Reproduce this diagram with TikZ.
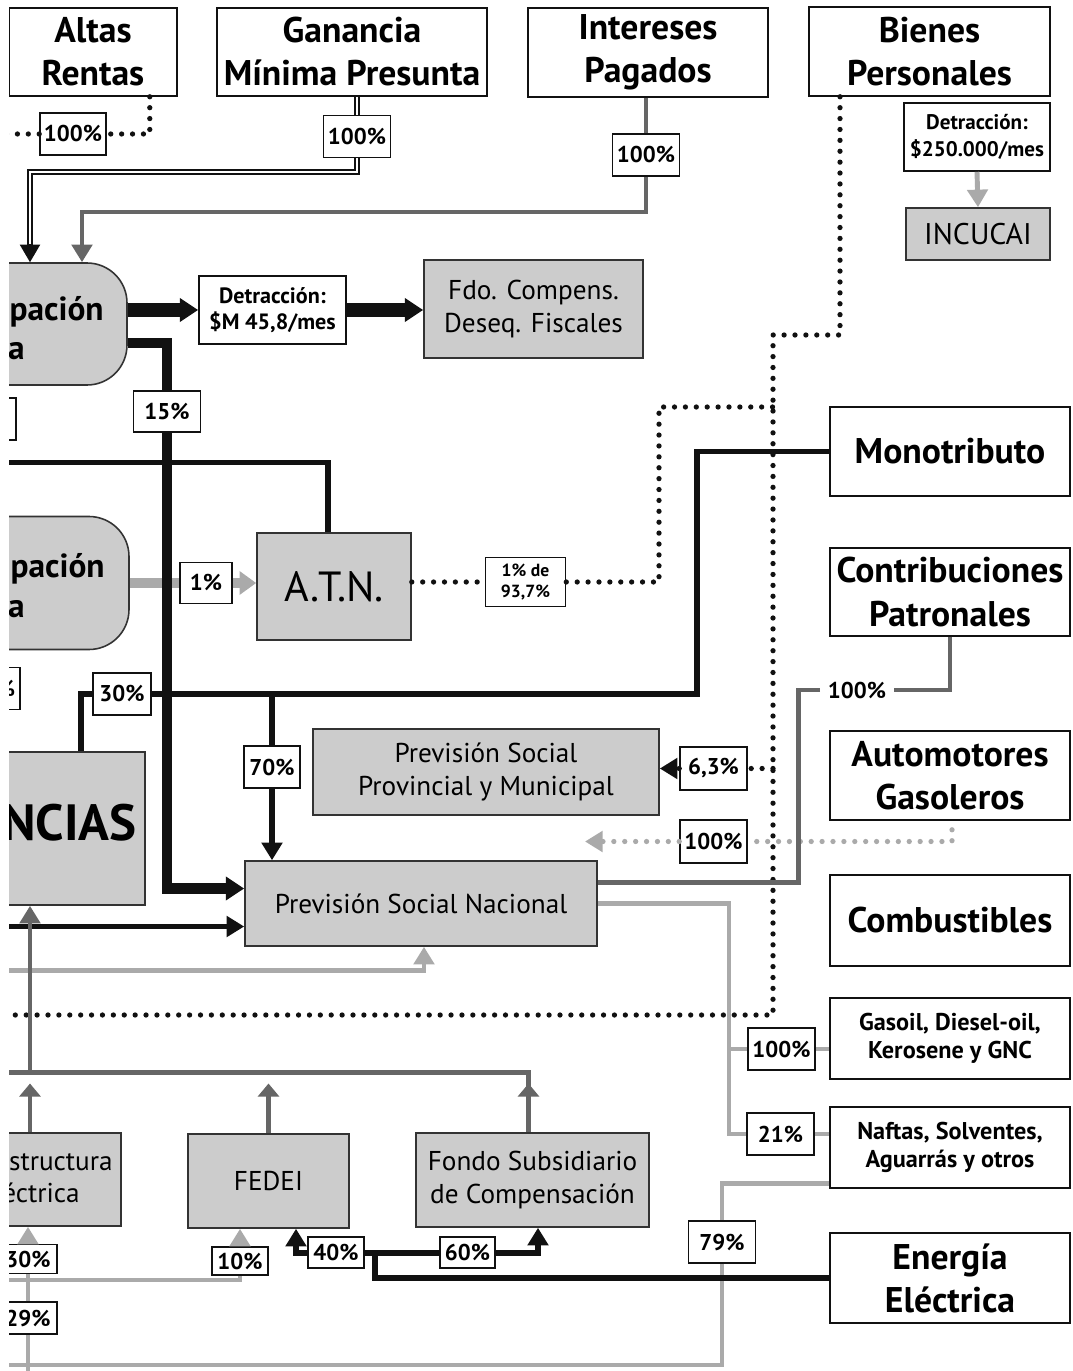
\documentclass[tikz,border=0pt]{standalone}
\usepackage{fontspec}
\setmainfont{PT Sans}
\usetikzlibrary{arrows.meta,calc}
\definecolor{ink}{HTML}{111111}
\definecolor{edge}{HTML}{333333}
\definecolor{fund}{HTML}{CCCCCC}
\definecolor{dgray}{HTML}{666666}
\definecolor{lgray}{HTML}{AAAAAA}

\begin{document}
\begin{tikzpicture}[x=0.02cm,y=-0.02cm,
  sz/.style 2 args={minimum width=#1*0.02cm,minimum height=#2*0.02cm},
  impuesto/.style={draw=ink,line width=0.9pt,fill=white,inner sep=0pt,align=center,font=\fontsize{20.3}{24.5}\selectfont\bfseries},
  menor/.style={impuesto,font=\fontsize{13.8}{16}\selectfont\bfseries},
  destino/.style={draw=edge,line width=0.9pt,fill=fund,inner sep=0pt,align=center,font=\fontsize{15.5}{18.5}\selectfont},
  pct/.style={draw=ink,line width=0.9pt,fill=white,inner sep=0pt,align=center,font=\fontsize{13}{14}\selectfont\bfseries},
  rotulo/.style={inner sep=0pt,font=\fontsize{19}{23}\selectfont\bfseries},
  flujo/.style={draw=ink,line width=3.4pt},
  grueso/.style={draw=ink,line width=6.2pt},
  dgris/.style={draw=dgray,line width=2.8pt},
  lgris/.style={draw=lgray,line width=2.8pt},
  punteo/.style={draw=ink,line width=3pt,line cap=round,dash pattern=on 0pt off 6.2pt},
  doble/.style={draw=ink,double=white,double distance=1.3pt,line width=0.8pt},
  >={Triangle[length=10pt,width=11.5pt]}]
\useasboundingbox (0,0) rectangle (1072,1371);
\clip (9,0) rectangle (1072,1371);

% impuestos de arriba
\node[impuesto,sz={168}{88}] (altas) at (93,52) {Altas\\Rentas};
\node[impuesto,sz={270}{88}] (gmp) at (352,52) {Ganancia\\Mínima Presunta};
\node[impuesto,sz={240}{89}] (intp) at (648,52.5) {Intereses\\Pagados};
\node[impuesto,sz={241}{89}] (bienes) at (929.5,51.5) {Bienes\\Personales};
\node[menor,sz={146}{68},font=\fontsize{12}{15}\selectfont\bfseries] (detrbp) at (977,137) {Detracción:\\\$250.000/mes};
\node[destino,sz={144}{52},font=\fontsize{17}{19}\selectfont] (incucai) at (978,234) {INCUCAI};

% impuestos de la derecha
\foreach \n/\y/\h/\t in {mono/451.5/89/Monotributo, contrib/592/88/{Contribuciones\\Patronales},
  autog/775.5/89/{Automotores\\Gasoleros}, combus/920.5/91/Combustibles, energia/1278/90/{Energía\\Eléctrica}}
  \node[impuesto,sz={240}{\h}] (\n) at (950,\y) {\t};
\node[menor,sz={240}{81}] (gasoil) at (950,1038.5) {Gasoil, Diesel-oil,\\Kerosene y GNC};
\node[menor,sz={240}{81}] (naftas) at (950,1147.5) {Naftas, Solventes,\\Aguarrás y otros};

% destinos
\node[destino,rounded corners=0.8cm,sz={227}{122}] (copa) at (13.5,324) {};
\node[destino,rounded corners=0.8cm,sz={229}{133}] (copb) at (14.5,583) {};
\node[destino,sz={245}{153}] (prov) at (22.5,828.5) {};
\node[destino,sz={221}{93}] (infra) at (10.5,1179.5) {};
\foreach \n/\x/\y/\t in {copa1/104/321/pación, copa2/25/359/a, copb1/105/577/pación, copb2/25/617/a}
  \node[rotulo,anchor=base east] (\n) at (\x,\y) {\t};
\node[rotulo,anchor=base east,font=\fontsize{29}{30}\selectfont\bfseries] (provtx) at (137,840) {NCIAS};
\node[inner sep=0pt,anchor=base east,font=\fontsize{15.5}{18}\selectfont] (infra1) at (113,1170) {estructura};
\node[inner sep=0pt,anchor=base east,font=\fontsize{15.5}{18}\selectfont] (infra2) at (80,1202) {éctrica};

\node[menor,sz={147}{68},font=\fontsize{12.6}{15}\selectfont\bfseries] (detrcf) at (272.5,310) {Detracción:\\\$M 45,8/mes};
\node[destino,sz={219}{98}] (fdo) at (533.5,309) {Fdo. Compens.\\Deseq. Fiscales};
\node[destino,sz={154}{107},font=\fontsize{24}{26}\selectfont] (atn) at (334,586.5) {A.T.N.};
\node[destino,sz={346}{86}] (pspm) at (486,772) {Previsión Social\\Provincial y Municipal};
\node[destino,sz={352}{85}] (psn) at (421,903.5) {Previsión Social Nacional};
\node[destino,sz={161}{94}] (fedei) at (268.5,1181) {FEDEI};
\node[destino,sz={233}{94}] (fsc) at (532.5,1180) {Fondo Subsidiario\\de Compensación};

% porcentajes
\foreach \n/\x/\y/\w/\h/\t in {pAR/73/134/66/42/100\%, pGM/357/136.5/67/42/100\%, pIP/646/155/67/42/100\%,
  p15/167/411.5/67/41/15\%, p1/206/583/52/41/1\%, p30/122/694/58/42/30\%, p70/272/767/56/42/70\%,
  p63/713.5/768.5/67/43/{6,3\%}, pAG/713.5/841.5/67/43/100\%, pGO/781.5/1049/67/42/100\%,
  p21/780.5/1134/67/42/21\%, p79/722/1242/67/42/79\%, p40/336/1252.5/56/31/40\%,
  p60/467.5/1252.5/55/31/60\%, p10/240/1261/56/28/10\%, pIE/28/1259/58/29/30\%, p29/28/1318/58/32/29\%}
  \node[pct,sz={\w}{\h}] (\n) at (\x,\y) {\t};
\node[pct,sz={80}{49},font=\fontsize{10}{12}\selectfont\bfseries] (p1de) at (525.5,582) {1\% de\\93,7\%};
\node[pct,draw=none,inner xsep=4pt] (pCP) at (857,690) {100\%};
\node[pct,sz={56}{42}] (pl1) at (-12,419) {};
\node[pct,sz={60}{42},text width=1cm,align=right] (pl2) at (-10,688.5) {\%};

% Altas Rentas
\coordinate (bordeAR) at (-20,134);
\draw[punteo] ($(altas.south east)+(-28,0)$) |- (pAR.east);
\draw[punteo] (pAR.west) -- (bordeAR);

% Ganancia Minima Presunta
\coordinate (kGM) at (30,172);
\draw[doble] ($(gmp.south)+(5,0)$) -- (pGM.north);
\draw[doble] (pGM.south) |- (kGM) -- ($(kGM |- copa.north)+(0,-16)$);
\draw[draw=ink,line width=0.8pt,->] ($(kGM |- copa.north)+(0,-18)$) -- (kGM |- copa.north);

% Intereses Pagados
\coordinate (kIP) at (82,212);
\draw[dgris] ($(intp.south)+(-2,0)$) -- (pIP.north);
\draw[dgris,->] (pIP.south) |- (kIP) -- (kIP |- copa.north);

% Bienes Personales
\coordinate (kBP1) at (773,335);
\coordinate (kBP2) at (773,1015);
\coordinate (bordeBP) at (-20,1015);
\draw[lgris,->] (detrbp.south) -- (incucai.north);
\draw[punteo] ($(bienes.south)+(-89.5,0)$) |- (kBP1) -- (kBP2) -- (bordeBP);

% A.T.N.
\coordinate (kAT) at (659,407);
\coordinate (bordeAT) at (-20,462.5);
\draw[punteo] (p1de.west -| atn.east) -- (p1de.west);
\draw[punteo] (p1de.east) -| (kAT) -- (kAT -| kBP1);
\draw[flujo] (bordeAT) -| ($(atn.north)+(-6,0)$);
\draw[lgris,line width=5.7pt] (copb.east) -- (p1.west);
\draw[lgris,line width=5.7pt,-{Triangle[length=9.5pt,width=13pt]}] (p1.east) -- (p1.east -| atn.west);

% 6,3% y Automotores
\coordinate (kAG) at (585,841.5);
\draw[punteo] (kBP1 |- p63.east) -- (p63.east);
\draw[punteo,->] (p63.west) -- (p63.west -| pspm.east);
\draw[punteo,draw=lgray] ($(autog.south)+(2,9)$) |- (pAG.east);
\draw[punteo,draw=lgray,->] (pAG.west) -- (kAG);

% Coparticipacion
\draw[grueso,line width=8pt,-{Triangle[length=10.5pt,width=13pt]}] (copa.east |- detrcf.west) -- (detrcf.west);
\draw[grueso,line width=8pt,-{Triangle[length=10.5pt,width=13pt]}] (detrcf.east) -- (detrcf.east -| fdo.west);
\draw[grueso] ($(copa.east)+(0,19)$) -| (p15.north);
\draw[grueso,-{Triangle[length=10.5pt,width=13pt]}] (p15.south) |- ($(psn.west)+(0,-15)$);
\coordinate (bordePS) at (-20,926.5);
\draw[flujo,->] (bordePS) -- (bordePS -| psn.west);

% Monotributo
\coordinate (kMO) at (697,694);
\draw[flujo] (mono.west) -| (kMO) -- (p30.east);
\draw[flujo] (p30.west) -| ($(prov.north)+(58.5,0)$);
\draw[flujo] (p70.north |- kMO) -- (p70.north);
\draw[flujo,->] (p70.south) -- (p70.south |- psn.north);

% Contribuciones Patronales
\draw[dgris] (contrib.south) |- (pCP.east);
\draw[dgris] (pCP.west) -| ($(psn.east)+(201,-21)$) -- ($(psn.east)+(0,-21)$);

% Combustibles
\coordinate (kPS) at (729,903.5);
\coordinate (bordeNF) at (-20,1365);
\draw[lgris] (psn.east) -- (kPS) |- (p21.west);
\draw[lgris] (kPS |- pGO.west) -- (pGO.west);
\draw[lgris] (pGO.east) -- (pGO.east -| gasoil.west);
\draw[lgris] (p21.east) -- (p21.east -| naftas.west);
\draw[lgris] ($(naftas.south west)+(0,-5)$) -| (p79.north);
\draw[lgris] (p79.south) |- (bordeNF);

% grises de abajo
\coordinate (fondoIE) at (28,1390);
\coordinate (bordeFE) at (-20,1280);
\coordinate (bordePN) at (-20,970.5);
\draw[lgris] (fondoIE) -- (p29.south);
\draw[lgris] (p29.north) -- (pIE.south);
\draw[lgris,->] (pIE.north) -- (pIE.north |- infra.south);
\draw[lgris] (bordeFE) -| (p10.south);
\draw[lgris,->] (p10.north) -- (p10.north |- fedei.south);
\draw[lgris,->] (bordePN) -| ($(psn.south)+(3,0)$);

\coordinate (bus) at (-20,1072.5);
\coordinate (cIE) at ($(infra.north)+(19.5,0)$);
\coordinate (cFS) at ($(fsc.north)+(-4,0)$);
\draw[dgris] (bus) -| (cFS);
\draw[dgris,->] (cIE |- bus) -- (cIE |- prov.south);
\foreach \c in {cIE,fedei.north,cFS}{
  \draw[dgris,-{Triangle[length=7.5pt,width=12pt]}] (\c) -- ($(\c |- bus)+(0,11)$);
}

% Energia Electrica
\coordinate (kEE) at (375,1252.5);
\draw[flujo] (energia.west) -| (kEE);
\draw[flujo] (p40.east) -- (p60.west);
\draw[flujo,->] (p40.west) -| ($(fedei.south)+(27.5,0)$);
\draw[flujo,->] (p60.east) -| ($(fsc.south)+(5.5,0)$);
\end{tikzpicture}
\end{document}
